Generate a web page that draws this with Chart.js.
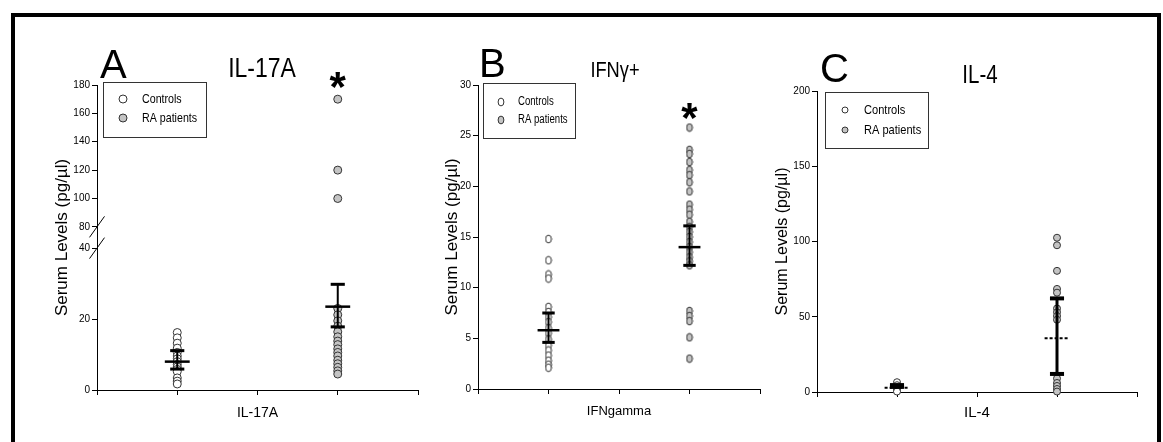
<!DOCTYPE html>
<html>
<head>
<meta charset="utf-8">
<title>Serum cytokine levels</title>
<script src="https://cdn.jsdelivr.net/npm/chart.js@4.4.1/dist/chart.umd.min.js"></script>
<style>
  html, body { margin:0; padding:0; background:#ffffff; }
  body { position:relative; width:1163px; height:442px; overflow:hidden; }
  #frame { position:absolute; left:11px; top:13px; width:1150px; height:470px; border:4px solid #000; box-sizing:border-box; }
  canvas { position:absolute; top:0; }
</style>
</head>
<body>
<div id="frame"></div>
<canvas id="panelA" width="430" height="442" style="left:0px"></canvas>
<canvas id="panelB" width="340" height="442" style="left:430px"></canvas>
<canvas id="panelC" width="393" height="442" style="left:770px"></canvas>
<script>
// ---------------- data ----------------
const groups = ['Controls', 'RA patients'];
const groupX = [1, 3];
const xTickValues = [0, 1, 2, 3, 4];
const xLabelValue = 2;
const yAxisTitle = 'Serum Levels (pg/µl)';

// Panel A : IL-17A (broken axis)
const titleA = 'IL-17A';
const xLabelA = 'IL-17A';
const controlsA = [16.2, 14.7, 13.2, 11.8, 10.6, 9.6, 8.8, 8.0, 7.2, 6.5, 5.8, 5.2, 3.4, 2.5, 1.7];
const patientsA = [23.0, 21.2, 19.5, 18.0, 16.4, 15.0, 13.8, 12.8, 11.6, 10.6, 9.6, 8.4, 7.4, 6.4, 5.4, 4.5];
const patientsAHigh = [100, 120, 170];
const meanA = [8.0, 23.5];
const upperA = [11.1, 29.8];
const lowerA = [5.9, 17.8];
const yTicksALow = [0, 20, 40];
const yTicksAHigh = [80, 100, 120, 140, 160, 180];
const yRangeALow = [0, 43];
const yRangeAHigh = [72.5, 180];
const axisBreakA = [40, 80];
const starsA = [{x: 3, y: 185}];

// Panel B : IFN gamma
const titleB = 'IFNγ+';
const xLabelB = 'IFNgamma';
const controlsB = [14.8, 12.7, 11.3, 10.9, 8.1, 7.6, 7.1, 6.6, 6.0, 5.5, 4.9, 4.3, 3.8, 3.3, 2.8, 2.4, 2.1];
const patientsB = [25.8, 23.6, 23.2, 22.4, 21.6, 21.1, 20.4, 19.5, 18.2, 17.7, 17.2, 16.5, 16.0, 15.5, 15.0, 14.5, 14.0, 13.5, 13.0, 12.6, 12.2, 7.7, 7.2, 6.7, 5.1, 3.0];
const meanB = [5.8, 14.0];
const upperB = [7.5, 16.1];
const lowerB = [4.6, 12.2];
const yTicksB = [0, 5, 10, 15, 20, 25, 30];
const yRangeB = [0, 30];
const starsB = [{x: 3, y: 27.6}];

// Panel C : IL-4
const titleC = 'IL-4';
const xLabelC = 'IL-4';
const controlsC = [6.5, 4.5, 3.0, 2.0, 1.0, 0.3];
const patientsC = [102.5, 97.5, 80.5, 68.5, 66.0, 55.5, 53.0, 50.5, 48.0, 9.0, 6.0, 4.0, 2.0, 0.3];
const meanC = [2.9, 35.7];
const upperC = [4.6, 62.2];
const lowerC = [3.4, 12.0];
const yTicksC = [0, 50, 100, 150, 200];
const yRangeC = [0, 200];

// ---------------- styles ----------------
const FN = '"Liberation Sans Narrow", "Arial Narrow", "Liberation Sans", Arial, sans-serif';
const FR = '"Liberation Sans", Arial, sans-serif';
const STROKE = '#333333';
const CTRL_FILL = '#ffffff';
const RA_FILL = '#c4c4c4';
const CAP_HALF = 0.088;
const MEAN_HALF = 0.155;

function ellipseStyle(fill) {
  const c = document.createElement('canvas');
  c.width = 8; c.height = 10;
  const g = c.getContext('2d');
  g.beginPath();
  g.ellipse(4, 5, 2.9, 3.9, 0, 0, Math.PI * 2);
  g.fillStyle = fill; g.fill();
  g.lineWidth = 1; g.strokeStyle = STROKE; g.stroke();
  return c;
}

function segment(x0, y0, x1, y1, width, dash, yAxisID) {
  return {
    data: [{x: x0, y: y0}, {x: x1, y: y1}],
    showLine: true, borderColor: '#000', borderWidth: width, borderDash: dash || [],
    borderCapStyle: 'butt', pointRadius: 0, pointHoverRadius: 0,
    order: 0, yAxisID: yAxisID || 'y', clip: false
  };
}
function errorBars(means, ups, los, st, yAxisID) {
  const out = [];
  groupX.forEach((gx, i) => {
    out.push(segment(gx, los[i], gx, ups[i], st.stem, null, yAxisID));
    out.push(segment(gx - CAP_HALF, ups[i], gx + CAP_HALF, ups[i], st.cap, null, yAxisID));
    out.push(segment(gx - CAP_HALF, los[i], gx + CAP_HALF, los[i], st.cap, null, yAxisID));
    out.push(segment(gx - MEAN_HALF, means[i], gx + MEAN_HALF, means[i], st.mean, st.dash, yAxisID));
  });
  return out;
}
function pointSet(gi, vals, shape, r, fill, yAxisID, legendLabel) {
  return {
    data: vals.map(v => ({x: groupX[gi], y: v})),
    showLine: false, pointStyle: shape, pointRadius: r, pointHoverRadius: r,
    pointBackgroundColor: fill, pointBorderColor: STROKE, pointBorderWidth: 1,
    order: 1, yAxisID: yAxisID || 'y', clip: false, legendLabel: legendLabel
  };
}

function xAxis(label, font, height, pad) {
  return {
    type: 'linear', position: 'bottom', min: xTickValues[0], max: xTickValues[xTickValues.length - 1],
    afterBuildTicks: s => { s.ticks = xTickValues.map(v => ({value: v})); },
    afterFit: s => { s.height = height; },
    ticks: { callback: v => (v === xLabelValue ? label : ''), font: font, color: '#000',
             padding: pad, autoSkip: false, maxRotation: 0, minRotation: 0 },
    grid: { display: true, drawOnChartArea: false, drawTicks: true, tickLength: 5, color: '#000', lineWidth: 1 },
    border: { display: true, color: '#000', width: 1 }
  };
}
function yAxis(range, ticks, width, extra) {
  return Object.assign({
    type: 'linear', position: 'left', min: range[0], max: range[1],
    afterBuildTicks: s => { s.ticks = ticks.map(v => ({value: v})); },
    afterFit: s => { s.width = width; },
    ticks: { font: {family: FN, size: 10}, color: '#000', padding: 2 },
    grid: { display: true, drawOnChartArea: false, drawTicks: true, tickLength: 5, color: '#000', lineWidth: 1 },
    border: { display: true, color: '#000', width: 1 }
  }, extra || {});
}

// text drawn horizontally condensed (the original uses a narrow face)
function narrowText(ctx, text, x, y, sx, align) {
  ctx.save();
  ctx.translate(x, y);
  ctx.scale(sx, 1);
  ctx.textAlign = align;
  ctx.fillText(text, 0, 0);
  ctx.restore();
}

const decor = {
  id: 'decor',
  afterDraw(chart, args, o) {
    const ctx = chart.ctx, ca = chart.chartArea;
    ctx.save();
    ctx.fillStyle = '#000';
    // panel letter
    ctx.font = '40px ' + FR; ctx.textBaseline = 'alphabetic';
    narrowText(ctx, o.letter, ca.left + o.letterDx, ca.top + o.letterDy, 1, 'left');
    // panel title
    ctx.font = o.titleSize + 'px ' + FN;
    narrowText(ctx, o.title, (ca.left + ca.right) / 2 + o.titleDx, ca.top + o.titleDy, o.titleSx, 'center');
    // y axis title
    ctx.save();
    ctx.translate(ca.left + o.yTitleDx, (ca.top + ca.bottom) / 2);
    ctx.rotate(-Math.PI / 2);
    ctx.font = o.yTitleSize + 'px ' + FR; ctx.textAlign = 'center'; ctx.textBaseline = 'middle';
    ctx.fillText(yAxisTitle, 0, 0);
    ctx.restore();
    // significance stars
    (o.stars || []).forEach(s => {
      const px = chart.scales.x.getPixelForValue(s.x);
      const py = chart.scales[o.starAxis].getPixelForValue(s.y);
      ctx.font = 'bold ' + o.starSize + 'px ' + FR; ctx.textAlign = 'center'; ctx.textBaseline = 'alphabetic';
      ctx.fillText('*', px, py + o.starSize * 0.55);
    });
    // legend
    const lg = o.legend;
    const bx = ca.left + lg.dx, by = ca.top + lg.dy;
    ctx.lineWidth = 1; ctx.strokeStyle = STROKE;
    ctx.strokeRect(bx + 0.5, by + 0.5, lg.w, lg.h);
    const items = chart.data.datasets.filter(d => d.legendLabel);
    items.forEach((d, i) => {
      const y = by + lg.rows[i];
      ctx.fillStyle = d.pointBackgroundColor; ctx.strokeStyle = d.pointBorderColor; ctx.lineWidth = 1;
      Chart.helpers.drawPoint(ctx, {pointStyle: d.pointStyle, radius: lg.r, borderWidth: 1, rotation: 0}, bx + lg.mx, y);
      ctx.fillStyle = '#000'; ctx.font = lg.fontSize + 'px ' + FN; ctx.textBaseline = 'middle';
      narrowText(ctx, d.legendLabel, bx + lg.tx, y, lg.sx, 'left');
    });
    // axis break marks
    if (o.breaks) {
      const x = ca.left;
      ctx.strokeStyle = '#000'; ctx.lineWidth = 1;
      [chart.scales.y.getPixelForValue(o.breaks[0]), chart.scales.y2.getPixelForValue(o.breaks[1])].forEach(py => {
        ctx.beginPath(); ctx.moveTo(x - 7.5, py + 10.5); ctx.lineTo(x + 7.5, py - 10.5); ctx.stroke();
      });
    }
    ctx.restore();
  }
};

const common = {
  responsive: false, animation: false, events: [],
  plugins: { legend: {display: false}, tooltip: {enabled: false}, title: {display: false} }
};

// ---------- Panel A ----------
new Chart(document.getElementById('panelA'), {
  type: 'scatter',
  data: { datasets: [
    ...errorBars(meanA, upperA, lowerA, {stem: 2, cap: 3, mean: 2.5}, 'y'),
    pointSet(0, controlsA, 'circle', 4, CTRL_FILL, 'y', groups[0]),
    pointSet(1, patientsA, 'circle', 4, RA_FILL, 'y', groups[1]),
    pointSet(1, patientsAHigh, 'circle', 4, RA_FILL, 'y2', null)
  ]},
  options: Object.assign({}, common, {
    layout: { padding: {left: 20, right: 12, top: 85, bottom: 0} },
    scales: {
      x: xAxis(xLabelA, {family: FR, size: 14}, 52, 10),
      y: yAxis(yRangeALow, yTicksALow, 77, {stack: 'brk', stackWeight: 1}),
      y2: yAxis(yRangeAHigh, yTicksAHigh, 77, {stack: 'brk', stackWeight: 1})
    },
    plugins: Object.assign({}, common.plugins, { decor: {
      letter: 'A', letterDx: 3, letterDy: -7,
      title: titleA, titleSize: 28, titleSx: 0.82, titleDx: 4.5, titleDy: -8,
      yTitleDx: -35, yTitleSize: 17,
      stars: starsA, starAxis: 'y2', starSize: 42,
      breaks: axisBreakA,
      legend: {dx: 6, dy: -3, w: 103, h: 55, mx: 20, tx: 39, rows: [17, 36], r: 4, fontSize: 13, sx: 0.82}
    }})
  }),
  plugins: [decor]
});

// ---------- Panel B ----------
const ctrlEllipse = ellipseStyle(CTRL_FILL);
const raEllipse = ellipseStyle(RA_FILL);
new Chart(document.getElementById('panelB'), {
  type: 'scatter',
  data: { datasets: [
    ...errorBars(meanB, upperB, lowerB, {stem: 2, cap: 3, mean: 2.5}, 'y'),
    pointSet(0, controlsB, ctrlEllipse, 4, CTRL_FILL, 'y', groups[0]),
    pointSet(1, patientsB, raEllipse, 4, RA_FILL, 'y', groups[1])
  ]},
  options: Object.assign({}, common, {
    layout: { padding: {left: 0, right: 4, top: 85, bottom: 0} },
    scales: {
      x: xAxis(xLabelB, {family: FN, size: 13}, 53, 10),
      y: yAxis(yRangeB, yTicksB, 48)
    },
    plugins: Object.assign({}, common.plugins, { decor: {
      letter: 'B', letterDx: 1, letterDy: -8,
      title: titleB, titleSize: 22, titleSx: 0.83, titleDx: -4, titleDy: -8,
      yTitleDx: -26, yTitleSize: 17,
      stars: starsB, starAxis: 'y', starSize: 42,
      legend: {dx: 5, dy: -2, w: 92, h: 55, mx: 18, tx: 35, rows: [19, 37], r: 4, fontSize: 12, sx: 0.8}
    }})
  }),
  plugins: [decor]
});

// ---------- Panel C ----------
new Chart(document.getElementById('panelC'), {
  type: 'scatter',
  data: { datasets: [
    ...errorBars(meanC, upperC, lowerC, {stem: 3, cap: 4, mean: 2, dash: [3, 2]}, 'y'),
    pointSet(0, controlsC, 'circle', 3.5, CTRL_FILL, 'y', groups[0]),
    pointSet(1, patientsC, 'circle', 3.5, RA_FILL, 'y', groups[1])
  ]},
  options: Object.assign({}, common, {
    layout: { padding: {left: 0, right: 26, top: 91, bottom: 0} },
    scales: {
      x: xAxis(xLabelC, {family: FN, size: 15}, 50, 7),
      y: yAxis(yRangeC, yTicksC, 47)
    },
    plugins: Object.assign({}, common.plugins, { decor: {
      letter: 'C', letterDx: 3, letterDy: -9,
      title: titleC, titleSize: 25, titleSx: 0.82, titleDx: 3, titleDy: -8,
      yTitleDx: -34, yTitleSize: 16,
      legend: {dx: 8, dy: 1, w: 103, h: 56, mx: 20, tx: 39, rows: [18, 38], r: 3, fontSize: 13.5, sx: 0.82}
    }})
  }),
  plugins: [decor]
});
</script>
</body>
</html>
